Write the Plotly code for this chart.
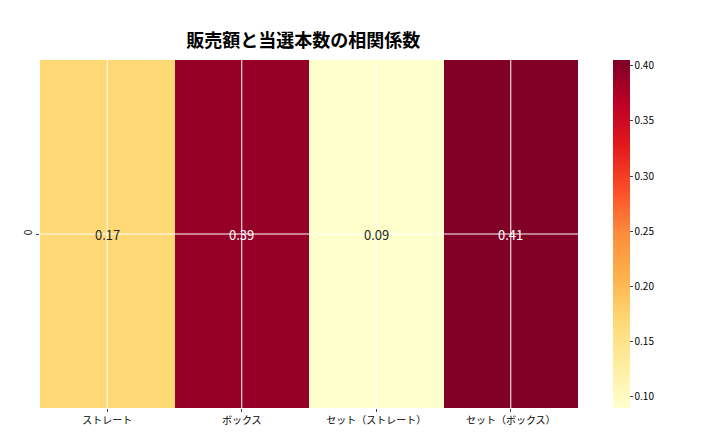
import plotly.graph_objects as go

categories = ["ストレート", "ボックス", "セット（ストレート）", "セット（ボックス）"]
values = [0.17, 0.39, 0.09, 0.405]
labels = ["0.17", "0.39", "0.09", "0.41"]
rows = ["0"]

fig = go.Figure(go.Heatmap(
    z=[values], x=categories, y=rows, colorscale="YlOrRd",
    zmin=0.09, zmax=0.405,
    colorbar=dict(thickness=17, len=1, y=0.5, yanchor="middle", x=1.065, xanchor="left",
                  xpad=0, ypad=0,
                  tickvals=[0.10,0.15,0.20,0.25,0.30,0.35,0.40], tickformat=".2f",
                  tickfont=dict(size=10), outlinewidth=0, ticks="outside", ticklen=3)
))
shapes = []
for c in categories:
    shapes.append(dict(type="line", xref="x", yref="paper", x0=c, x1=c, y0=0, y1=1,
                       line=dict(color="white", width=1), layer="above"))
shapes.append(dict(type="line", xref="paper", yref="y", x0=0, x1=1, y0="0", y1="0",
                   line=dict(color="white", width=1), layer="above"))
annotations = [dict(x=c, y="0", text=t, showarrow=False,
                    font=dict(size=13, color="white" if v > 0.3 else "#262626"))
               for c, t, v in zip(categories, labels, values)]
fig.update_layout(
    width=720, height=432, margin=dict(l=32, r=150, t=52, b=32),
    plot_bgcolor="white", paper_bgcolor="white",
    font=dict(family="Noto Sans CJK JP", color="black"),
    title=dict(text="<b>販売額と当選本数の相関係数</b>", x=0.41, xanchor="center", y=0.94, font=dict(size=18)),
    xaxis=dict(tickfont=dict(size=10), ticks="outside", ticklen=3, showgrid=False, automargin=False),
    yaxis=dict(tickfont=dict(size=10), ticks="outside", ticklen=3, tickangle=-90, showgrid=False, automargin=False),
    shapes=shapes, annotations=annotations,
)
fig.write_html("out.html")
